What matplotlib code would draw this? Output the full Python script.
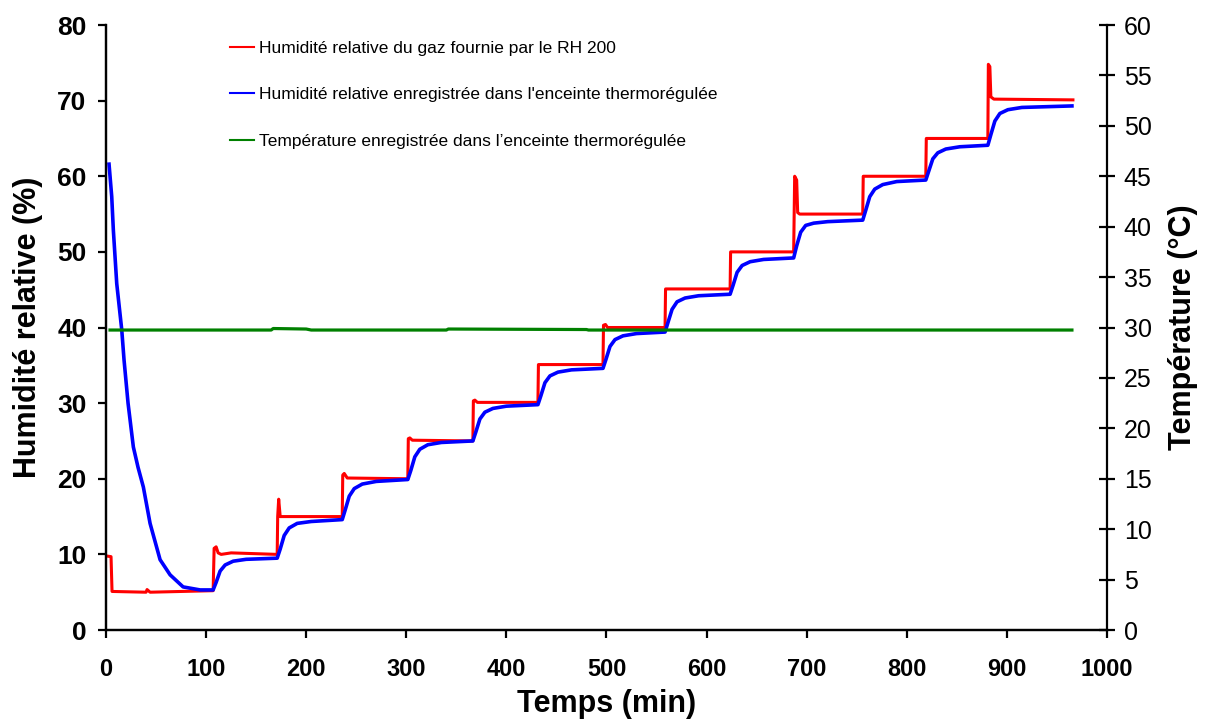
import matplotlib
matplotlib.use("Agg")
import matplotlib.pyplot as plt

plt.rcParams['font.family'] = ['Liberation Sans', 'DejaVu Sans']

# RH supplied by the RH 200 (red)
t_red = [0, 5, 6, 40, 41, 44, 107, 108, 110, 112, 115, 125, 171, 171.5, 172.5, 174,
         236, 236.5, 238, 241, 301.5, 302, 303.5, 306, 366.5, 367, 368.5, 371,
         431.5, 432, 496.5, 497, 499, 501, 558.5, 559, 623.5, 624, 687, 688, 690,
         691, 693, 756, 756.5, 819, 819.5, 881, 881.5, 883, 884, 887, 966]
rh_red = [9.8, 9.7, 5.1, 5.0, 5.35, 5.0, 5.2, 10.8, 11.0, 10.2, 10.0, 10.2, 10.0, 15.0, 17.3, 15.0,
          15.0, 20.5, 20.7, 20.1, 20.0, 25.3, 25.4, 25.1, 25.0, 30.3, 30.4, 30.1,
          30.1, 35.1, 35.1, 40.3, 40.4, 40.0, 40.0, 45.1, 45.1, 50.0, 50.0, 60.0, 59.5,
          55.2, 55.0, 55.0, 60.0, 60.0, 65.0, 65.0, 74.8, 74.5, 70.5, 70.2, 70.1]

# RH recorded in the chamber (blue)
t_blue = [3, 5.7, 7.3, 10.7, 15.7, 18, 22, 27.3, 32, 37.3, 44, 54, 64, 77, 94,
          107, 110, 114, 119, 127, 140,
          171, 174, 178, 183, 191, 205,
          236, 239, 243, 248, 256, 270,
          301.5, 304.5, 308.5, 313.5, 321.5, 335,
          366.5, 369.5, 373.5, 378.5, 386.5, 400,
          431.5, 434.5, 438.5, 443.5, 451.5, 465,
          496.5, 499.5, 503.5, 508.5, 516.5, 530,
          558.5, 561.5, 565.5, 570.5, 578.5, 592,
          623.5, 626.5, 630.5, 635.5, 643.5, 657,
          687, 690, 694, 699, 707, 721,
          756, 759, 763, 768, 776, 790,
          819, 822, 826, 831, 839, 853,
          881, 884, 888, 893, 901, 915, 965]
rh_blue = [61.6, 57.3, 52.9, 45.8, 39.7, 35.7, 30.0, 24.2, 21.5, 18.9, 14.1, 9.3, 7.3, 5.7, 5.3,
           5.3, 6.3, 7.8, 8.6, 9.1, 9.35,
           9.5, 10.7, 12.5, 13.5, 14.1, 14.35,
           14.6, 15.9, 17.7, 18.7, 19.3, 19.65,
           19.9, 21.1, 22.9, 23.9, 24.5, 24.8,
           25.0, 26.2, 27.9, 28.8, 29.3, 29.6,
           29.8, 31.0, 32.7, 33.6, 34.1, 34.4,
           34.6, 35.8, 37.5, 38.4, 38.9, 39.2,
           39.4, 40.7, 42.4, 43.4, 43.9, 44.2,
           44.4, 45.6, 47.3, 48.2, 48.7, 49.0,
           49.2, 50.8, 52.6, 53.5, 53.8, 54.0,
           54.2, 55.5, 57.3, 58.3, 58.9, 59.3,
           59.5, 60.7, 62.3, 63.1, 63.6, 63.9,
           64.1, 65.5, 67.3, 68.3, 68.8, 69.1, 69.3]

# temperature in the chamber (green, right axis)
t_temp = [4, 165, 167, 200, 205, 340, 342, 480, 482, 965]
temp = [29.75, 29.75, 29.9, 29.85, 29.75, 29.75, 29.85, 29.8, 29.75, 29.75]

fig = plt.figure(figsize=(12.09, 7.27), dpi=100)
ax1 = fig.add_axes([0.0877, 0.1334, 0.8279, 0.8322])
ax2 = ax1.twinx()

l1, = ax1.plot(t_red, rh_red, color="#ff0000", lw=2.2,
               label="Humidité relative du gaz fournie par le RH 200")
l2, = ax1.plot(t_blue, rh_blue, color="#0000ff", lw=2.6,
               label="Humidité relative enregistrée dans l'enceinte thermorégulée")
l3, = ax2.plot(t_temp, temp, color="#008000", lw=2.3,
               label="Température enregistrée dans l’enceinte thermorégulée")

ax1.set_xlim(0, 1000)
ax1.set_ylim(0, 80)
ax2.set_ylim(0, 60)
ax1.set_xticks(range(0, 1001, 100))
ax1.set_yticks(range(0, 81, 10))
ax2.set_yticks(range(0, 61, 5))

for ax in (ax1, ax2):
    ax.spines["top"].set_visible(False)
    for s in ax.spines.values():
        s.set_linewidth(1.6)
ax1.spines["right"].set_visible(False)

ax1.tick_params(axis="y", direction="out", length=6, width=1.6, labelsize=19, pad=8)
ax1.tick_params(axis="x", direction="out", length=6, width=1.6, labelsize=17, pad=14)
ax2.tick_params(axis="y", direction="inout", length=12, width=1.6, labelsize=18, pad=6)
for lab in ax1.get_xticklabels() + ax1.get_yticklabels():
    lab.set_fontweight("bold")

ax1.set_xlabel("Temps (min)", fontsize=22, fontweight="bold", labelpad=6)
ax1.set_ylabel("Humidité relative (%)", fontsize=22, fontweight="bold", labelpad=10)
ax2.set_ylabel("Température (°C)", fontsize=22, fontweight="bold", labelpad=12)

leg = ax1.legend(handles=[l1, l2, l3], loc="upper left", bbox_to_anchor=(0.108, 1.0),
                 frameon=False, fontsize=12.5, labelspacing=1.8, handlelength=1.4,
                 handletextpad=0.3)
for ln in leg.get_lines():
    ln.set_linewidth(1.5)

fig.savefig("out.png", dpi=100)
